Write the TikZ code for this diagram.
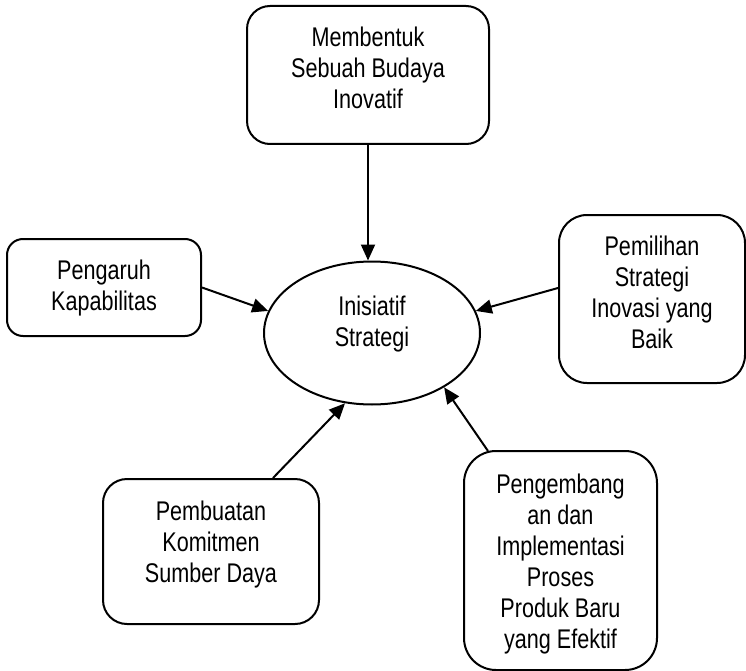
\documentclass[tikz,border=0pt]{standalone}
\usepackage{fontspec}
\setmainfont[FakeStretch=0.8]{Liberation Sans}
\usetikzlibrary{arrows.meta,shapes.geometric,calc}
\begin{document}
\begin{tikzpicture}[x=1pt,y={(0pt,-1pt)},
  box/.style={draw, line width=2pt, rectangle, inner sep=0pt},
  txt/.style={anchor=north, align=center, inner sep=0pt, font=\fontsize{27}{31}\selectfont},
  arr/.style={line width=2pt, -{Triangle[length=16pt,width=14pt]}}]
\useasboundingbox (0,0) rectangle (746,671);
% boxes
\node[box, rounded corners=23pt, minimum width=242pt, minimum height=138pt] (top) at (368,75) {};
\node[box, rounded corners=16pt, minimum width=194pt, minimum height=97pt] (left) at (104,287.5) {};
\node[box, rounded corners=28pt, minimum width=186pt, minimum height=168pt] (right) at (652,299) {};
\node[box, rounded corners=24pt, minimum width=216pt, minimum height=145pt] (bl) at (211,551.5) {};
\node[box, rounded corners=32pt, minimum width=193pt, minimum height=219pt] (br) at (560.5,560.5) {};
\node[draw, ellipse, line width=2pt, inner sep=0pt, minimum width=216pt, minimum height=143pt] (ell) at (372,333) {};
% texts
\node[txt] (ttop) at ($(top.north)+(0,19.3)$) {\strut Membentuk\\\strut Sebuah Budaya\\\strut Inovatif};
\node[txt] (tleft) at ($(left.north)+(0,19.3)$) {\strut Pengaruh\\\strut Kapabilitas};
\node[txt] (tright) at ($(right.north)+(0,19.3)$) {\strut Pemilihan\\\strut Strategi\\\strut Inovasi yang\\\strut Baik};
\node[txt] (tbl) at ($(bl.north)+(0,20.3)$) {\strut Pembuatan\\\strut Komitmen\\\strut Sumber Daya};
\node[txt] (tbr) at ($(br.north)+(0,21.3)$) {\strut Pengembang\\\strut an dan\\\strut Implementasi\\\strut Proses\\\strut Produk Baru\\\strut yang Efektif};
\node[txt] (tell) at (372,293.3) {\strut Inisiatif\\\strut Strategi};
% connectors
\draw[arr] (top.south) -- (top.south |- ell.north);
\draw[arr] (left.east) -- (ell.168.5);
\draw[arr] ($(right.west)+(0,-11)$) -- (ell.12.3);
\draw[arr] ($(bl.north)+(62,0)$) -- (ell.249);
\draw[arr] ($(br.north)+(-72.5,1)$) -- (ell.323.4);
\end{tikzpicture}
\end{document}
